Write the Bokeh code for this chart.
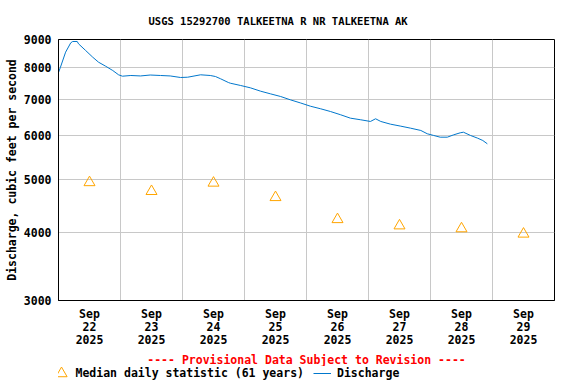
from bokeh.plotting import figure
from bokeh.layouts import column
from bokeh.models import Range1d, FixedTicker, Legend, LegendItem, Title
from bokeh.embed import file_html
from bokeh.resources import INLINE

# Discharge readings (hours after 2025-09-22 00:00, cubic feet per second)
hours = [0, 0.75, 2.75, 4.75, 5.5, 7.25, 7.75, 10.5, 13.25, 15.5, 18.25, 21, 23.25,
         24.75, 28, 31.75, 35.5, 39.5, 43.25, 47.25, 50, 55, 58.75, 60.75, 62.75,
         65.75, 66.5, 70.5, 74.25, 78.25, 82, 86, 89.75, 93.75, 97.5, 101.5, 105.25,
         109.25, 113, 117, 120.75, 122.75, 124.75, 128.5, 132.5, 136.25, 140.25,
         142.75, 145.25, 147.75, 150.5, 153, 155.5, 156.75, 159.5, 162.25, 164.25, 166]
discharge = [7833, 8009, 8532, 8876, 8925, 8925, 8838, 8593, 8354, 8180, 8043, 7899, 7757,
             7712, 7735, 7720, 7750, 7735, 7720, 7670, 7679, 7757, 7735, 7702, 7628,
             7510, 7488, 7416, 7344, 7240, 7161, 7080, 6982, 6889, 6797, 6723, 6647,
             6555, 6463, 6419, 6374, 6446, 6374, 6302, 6249, 6197, 6137,
             6052, 6009, 5966, 5966, 6026, 6077, 6092, 6009, 5941, 5883, 5802]

# Median daily statistic (61 years), at noon of each day
median_hours = [12, 36, 60, 84, 108, 132, 156, 180]
median_values = [4930, 4750, 4920, 4630, 4220, 4110, 4060, 3970]

day_labels = ["Sep\n22\n2025", "Sep\n23\n2025", "Sep\n24\n2025", "Sep\n25\n2025",
              "Sep\n26\n2025", "Sep\n27\n2025", "Sep\n28\n2025", "Sep\n29\n2025"]
midnight_hours = [24, 48, 72, 96, 120, 144, 168]
y_ticks = [3000, 4000, 5000, 6000, 7000, 8000, 9000]

FONT = "DejaVu Sans Mono"
FS = "11.5px"
MED_COLOR = "#ffa500"
DIS_COLOR = "#0077cc"

p = figure(width=570, height=366, y_axis_type="log",
           x_range=Range1d(0, 192), y_range=Range1d(3000, 9000),
           output_backend="svg", toolbar_location=None,
           min_border_left=58, min_border_right=16, min_border_top=39, min_border_bottom=66)

p.title.text = "USGS 15292700 TALKEETNA R NR TALKEETNA AK"
p.title.align = "left"
p.title.offset = 90
p.title.text_font = FONT
p.title.text_font_size = "10.5px"
p.title.text_font_style = "bold"
p.title.text_color = "black"
p.title.standoff = 25

p.outline_line_color = "black"
p.outline_line_alpha = 1
p.outline_line_width = 1
p.background_fill_color = "white"
p.border_fill_color = "white"

xa = p.xaxis[0]
xa.ticker = FixedTicker(ticks=median_hours)
xa.major_label_overrides = {h: lab for h, lab in zip(median_hours, day_labels)}
xa.major_tick_line_color = None
xa.minor_tick_line_color = None
xa.major_tick_out = 0
xa.minor_tick_out = 0
xa.axis_line_color = "black"
xa.major_label_text_font = FONT
xa.major_label_text_font_size = FS
xa.major_label_text_font_style = "bold"
xa.major_label_text_color = "black"
xa.major_label_standoff = 6
xa.major_label_text_line_height = 0.95

ya = p.yaxis[0]
ya.ticker = FixedTicker(ticks=y_ticks)
ya.major_label_overrides = {v: str(v) for v in y_ticks}
ya.major_tick_line_color = None
ya.minor_tick_line_color = None
ya.major_tick_out = 0
ya.minor_tick_out = 0
ya.axis_line_color = "black"
ya.major_label_text_font = FONT
ya.major_label_text_font_size = FS
ya.major_label_text_font_style = "bold"
ya.major_label_text_color = "black"
ya.major_label_standoff = 7
ya.axis_label = "Discharge, cubic feet per second"
ya.axis_label_text_font = FONT
ya.axis_label_text_font_size = FS
ya.axis_label_text_font_style = "bold"
ya.axis_label_text_color = "black"
ya.axis_label_standoff = 2

p.xgrid.ticker = FixedTicker(ticks=midnight_hours)
p.ygrid.ticker = FixedTicker(ticks=y_ticks)
p.xgrid.grid_line_color = "#c8c8c8"
p.ygrid.grid_line_color = "#c8c8c8"
p.xgrid.grid_line_width = 1
p.ygrid.grid_line_width = 1

p.scatter(median_hours, median_values, marker="triangle", size=11,
          fill_color=None, line_color=MED_COLOR, line_width=1)
p.line(hours, discharge, line_color=DIS_COLOR, line_width=1)

prov = Title(text="---- Provisional Data Subject to Revision ----", align="center",
             text_color="red", text_font=FONT, text_font_size=FS, text_font_style="bold",
             standoff=0)
p.add_layout(prov, "below")

# Legend strip below the chart (its frame is aligned with the chart's frame);
# the series are plotted out of its view, only the legend entries show.
pl = figure(width=570, height=18, x_axis_type=None, y_axis_type=None,
            x_range=Range1d(-2, -1), y_range=Range1d(-2, -1),
            output_backend="svg", toolbar_location=None,
            min_border_left=58, min_border_right=16, min_border_top=0, min_border_bottom=0)
pl.outline_line_color = None
pl.grid.visible = False
pl.background_fill_alpha = 0
lr_med = pl.scatter(median_hours, median_values, marker="triangle", size=11,
                    fill_color=None, line_color=MED_COLOR, line_width=1)
lr_dis = pl.line(hours, discharge, line_color=DIS_COLOR, line_width=1)

common = dict(orientation="horizontal", border_line_color=None, background_fill_alpha=0,
              padding=0, margin=0, spacing=0, label_text_font=FONT, label_text_color="black",
              label_text_font_size=FS, label_text_font_style="bold", label_height=14)
leg1 = Legend(items=[LegendItem(label="Median daily statistic (61 years)", renderers=[lr_med])],
              location=(-11.5, -3), glyph_width=28, glyph_height=28, label_standoff=1, **common)
leg2 = Legend(items=[LegendItem(label="Discharge", renderers=[lr_dis])],
              location=(255, 4), glyph_width=18, glyph_height=14, label_standoff=6, **common)
pl.add_layout(leg1)
pl.add_layout(leg2)

open("out.html", "w").write(file_html(column(p, pl), INLINE))
